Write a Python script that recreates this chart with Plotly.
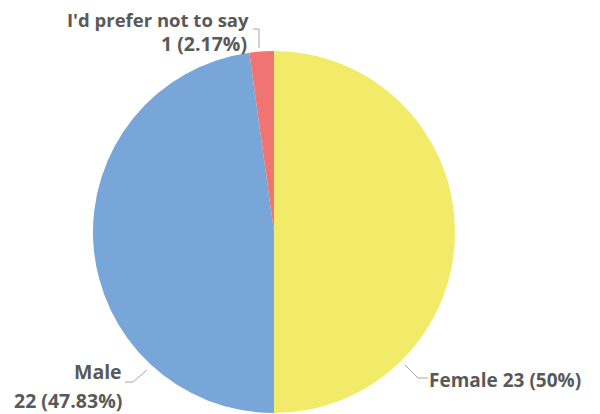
import plotly.graph_objects as go

categories = ["Female", "Male", "I'd prefer not to say"]
counts = [23, 22, 1]
colors = ["#F2EB6A", "#79A6D8", "#F07572"]

W, H = 600, 414
OFF = 8  # page body margin of the written html
total = sum(counts)
pct = [c / total * 100 for c in counts]

def fmt(p):
    s = f"{p:.2f}".rstrip("0").rstrip(".")
    return s + "%"

def px(x):
    return (x - OFF) / W

def py(y):
    return 1 - (y - OFF) / H

cx, cy, r = 274, 232, 181

fig = go.Figure(go.Pie(
    labels=categories,
    values=counts,
    sort=False,
    direction="clockwise",
    rotation=0,
    marker=dict(colors=colors, line=dict(width=0)),
    textinfo="none",
    hoverinfo="label+value+percent",
    domain=dict(x=[px(cx - r), px(cx + r)], y=[py(cy + r), py(cy - r)]),
    showlegend=False,
))

font = dict(family="Open Sans", size=19.5, color="#595959")

def note(x, y, text, anchor, size=19.5):
    f = dict(font)
    f["size"] = size
    return dict(x=px(x), y=py(y), xref="paper", yref="paper", xanchor=anchor, yanchor="middle",
                text=f"<b>{text}</b>", showarrow=False, font=f)

ann = [
    note(427, 380, f"{categories[0]} {counts[0]} ({fmt(pct[0])})", "left", 19),
    note(124, 371, categories[1], "right"),
    note(124, 400, f"{counts[1]} ({fmt(pct[1])})", "right"),
    note(251, 19, categories[2], "right", 18.5),
    note(249, 44, f"{counts[2]} ({fmt(pct[2])})", "right"),
]

line_style = dict(color="#A6A6A6", width=1)
shapes = [
    dict(type="path", xref="paper", yref="paper",
         path=f"M {px(405)},{py(365)} L {px(418)},{py(378)} L {px(428)},{py(378)}", line=line_style),
    dict(type="path", xref="paper", yref="paper",
         path=f"M {px(147)},{py(370)} L {px(133)},{py(382)} L {px(125)},{py(382)}", line=line_style),
    dict(type="path", xref="paper", yref="paper",
         path=f"M {px(259)},{py(48)} L {px(259)},{py(29)} L {px(253)},{py(29)}", line=line_style),
]

fig.update_layout(
    width=W, height=H,
    margin=dict(l=0, r=0, t=0, b=0),
    paper_bgcolor="white",
    plot_bgcolor="white",
    annotations=ann,
    shapes=shapes,
)

fig.write_html("out.html")
